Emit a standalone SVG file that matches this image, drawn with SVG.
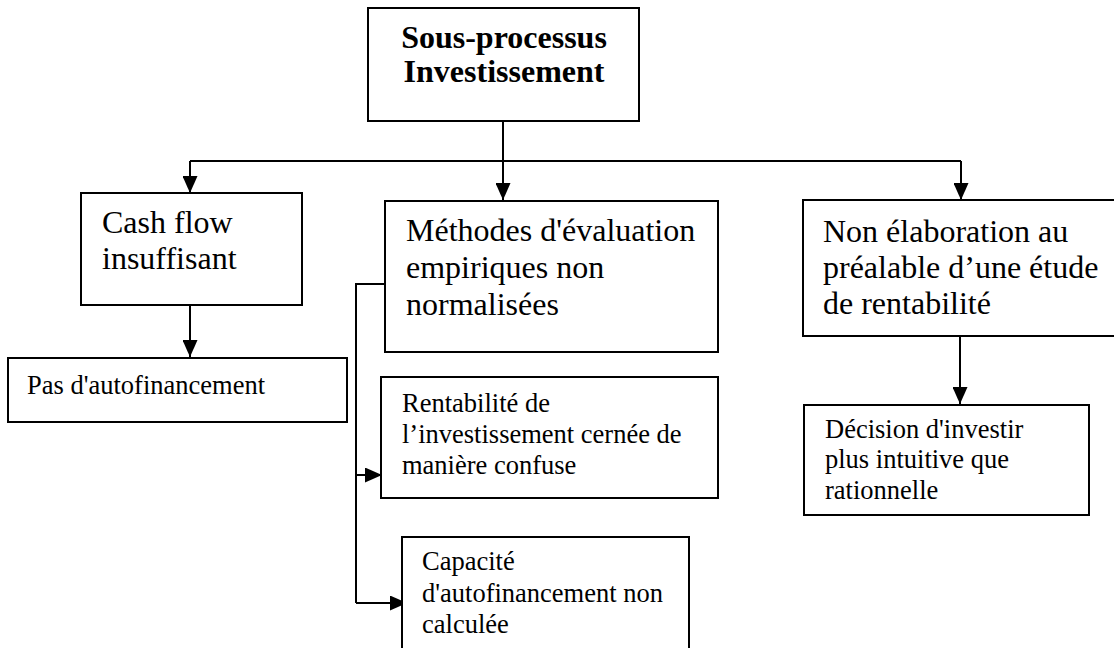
<svg xmlns="http://www.w3.org/2000/svg" width="1114" height="648" viewBox="0 0 1114 648">
  <style>
    .box { fill: #ffffff; stroke: #000000; stroke-width: 2; }
    .line { fill: none; stroke: #000000; stroke-width: 2; }
    .t { font-family: "Liberation Serif", "Times New Roman", serif; fill: #000000; }
    .big { font-size: 32px; }
    .small { font-size: 26.5px; }
    .title { font-size: 32px; font-weight: bold; text-anchor: middle; }
  </style>
  <defs>
    <marker id="arrow" viewBox="0 0 17 15" refX="17" refY="7.5" markerWidth="17" markerHeight="15" markerUnits="userSpaceOnUse" orient="auto">
      <path d="M0,0 L17,7.5 L0,15 Z" fill="#000000"/>
    </marker>
  </defs>

  <rect width="1114" height="648" fill="#ffffff"/>

  <!-- connectors -->
  <g id="connectors">
    <path class="line" d="M503,121 V161"/>
    <path class="line" d="M190,161 H961"/>
    <path class="line" d="M190,161 V193" marker-end="url(#arrow)"/>
    <path class="line" d="M503,161 V200" marker-end="url(#arrow)"/>
    <path class="line" d="M961,161 V200" marker-end="url(#arrow)"/>
    <path class="line" d="M190,305 V357" marker-end="url(#arrow)"/>
    <path class="line" d="M960,336 V404" marker-end="url(#arrow)"/>
    <path class="line" d="M385,284 H356 V603"/>
    <path class="line" d="M356,475 H382" marker-end="url(#arrow)"/>
    <path class="line" d="M356,603 H407" marker-end="url(#arrow)"/>
  </g>

  <!-- root -->
  <g id="sous-processus">
    <rect class="box" x="368" y="8" width="271" height="113"/>
    <text class="t title" x="504" y="48">Sous-processus</text>
    <text class="t title" x="504" y="82">Investissement</text>
  </g>

  <!-- left branch -->
  <g id="cash-flow">
    <rect class="box" x="81" y="193" width="221" height="112"/>
    <text class="t big" x="102" y="233">Cash flow</text>
    <text class="t big" x="102" y="269">insuffisant</text>
  </g>
  <g id="pas-autofinancement">
    <rect class="box" x="8" y="358" width="339" height="64"/>
    <text class="t small" x="27" y="394">Pas d'autofinancement</text>
  </g>

  <!-- middle branch -->
  <g id="methodes">
    <rect class="box" x="385" y="201" width="333" height="151"/>
    <text class="t big" x="406" y="241">Méthodes d'évaluation</text>
    <text class="t big" x="406" y="278">empiriques non</text>
    <text class="t big" x="406" y="315">normalisées</text>
  </g>
  <g id="rentabilite">
    <rect class="box" x="381" y="377" width="337" height="121"/>
    <text class="t small" x="402" y="412">Rentabilité de</text>
    <text class="t small" x="402" y="443">l’investissement cernée de</text>
    <text class="t small" x="402" y="474">manière confuse</text>
  </g>
  <g id="capacite">
    <rect class="box" x="402" y="537" width="287" height="130"/>
    <text class="t small" x="422" y="570">Capacité</text>
    <text class="t small" x="422" y="602">d'autofinancement non</text>
    <text class="t small" x="422" y="633">calculée</text>
  </g>

  <!-- right branch -->
  <g id="non-elaboration">
    <rect class="box" x="803" y="200" width="330" height="136"/>
    <text class="t big" x="823" y="242">Non élaboration au</text>
    <text class="t big" x="823" y="278">préalable d’une étude</text>
    <text class="t big" x="823" y="314">de rentabilité</text>
  </g>
  <g id="decision">
    <rect class="box" x="804" y="405" width="285" height="110"/>
    <text class="t small" x="825" y="438">Décision d'investir</text>
    <text class="t small" x="825" y="468">plus intuitive que</text>
    <text class="t small" x="825" y="499">rationnelle</text>
  </g>
</svg>
